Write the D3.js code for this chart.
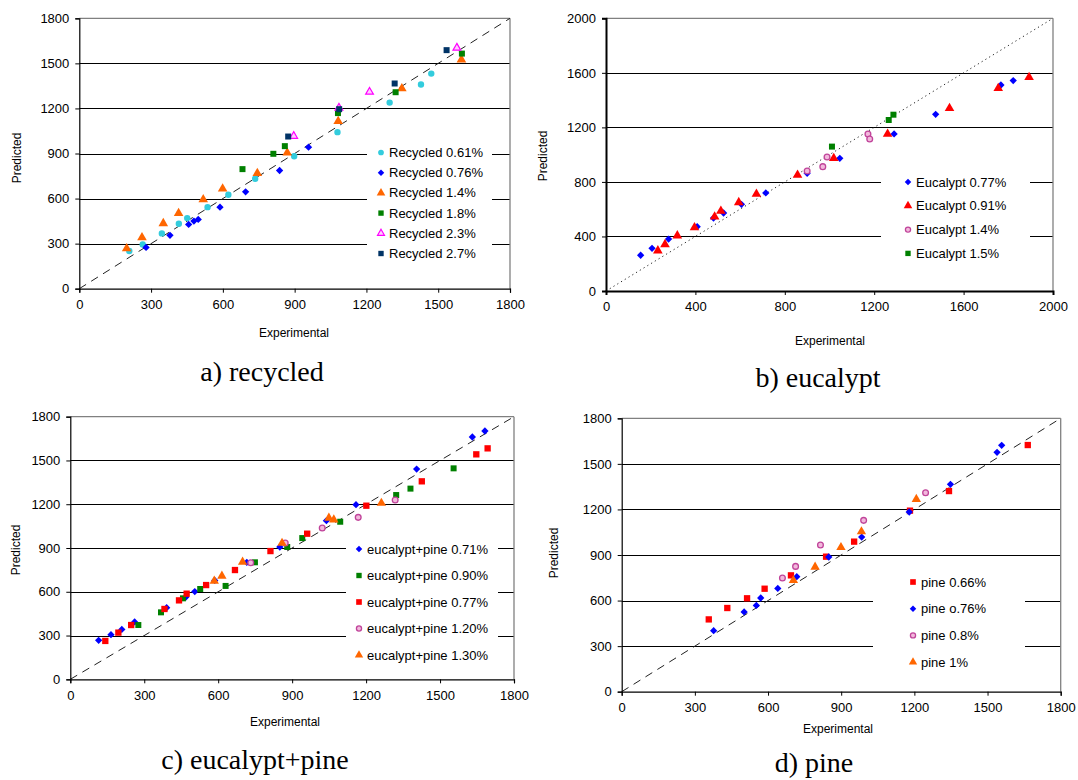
<!DOCTYPE html>
<html><head><meta charset="utf-8">
<script src="https://cdn.jsdelivr.net/npm/d3@7"></script>
<style>
body{margin:0;background:#fff;}
</style></head>
<body><svg id="chart" width="1078" height="780"></svg>
<script>
// ---------- DATA ----------
// a) recycled  [experimental, predicted]
const recycled061 = [[209,251],[265,295],[345,368],[416,432],[451,470],[536,543],[623,625],[735,732],[898,882],[1079,1042],[1297,1239],[1428,1359],[1471,1432]];
const recycled076 = [[279,275],[379,355],[457,428],[479,450],[497,461],[588,543],[695,645],[837,787],[958,942]];
const recycled14  = [[198,268],[262,341],[351,435],[415,502],[518,594],[599,665],[744,769],[869,905],[1082,1115],[1348,1333],[1597,1525]];
const recycled18  = [[682,796],[811,898],[859,949],[1081,1169],[1322,1308],[1599,1565]];
const recycled23  = [[896,1016],[1085,1204],[1213,1310],[1578,1603]];
const recycled27  = [[873,1013],[1086,1195],[1318,1366],[1535,1588]];
// b) eucalypt
const eucalypt077 = [[155,262],[206,313],[280,381],[408,472],[481,535],[526,572],[606,636],[715,719],[900,863],[1046,973],[1289,1152],[1475,1296],[1767,1511],[1822,1543]];
const eucalypt091 = [[232,296],[264,342],[319,406],[396,465],[486,545],[514,587],[594,650],[673,711],[857,851],[1019,973],[1260,1152],[1537,1340],[1755,1487],[1893,1567]];
const eucalypt14  = [[900,880],[970,912],[989,983],[1172,1152],[1180,1115]];
const eucalypt15  = [[1011,1059],[1265,1254],[1286,1293]];
// c) eucalypt+pine
const ep071 = [[115,267],[165,306],[209,342],[261,393],[391,491],[469,564],[505,601],[586,678],[716,802],[850,907],[1039,1087],[1159,1197],[1405,1441],[1631,1661],[1682,1702]];
const ep090 = [[276,372],[368,459],[457,555],[527,619],[630,640],[749,802],[880,907],[941,968],[1095,1080],[1322,1263],[1380,1307],[1555,1446]];
const ep077 = [[142,263],[195,320],[247,372],[382,482],[441,541],[472,587],[551,646],[668,749],[812,879],[961,998],[1201,1190],[1426,1357],[1647,1542],[1693,1583]];
const ep120 = [[732,799],[872,934],[1022,1037],[1168,1110],[1318,1229]];
const ep130 = [[584,674],[615,708],[699,804],[859,934],[1049,1106],[1069,1094],[1262,1208]];
// d) pine
const pine066 = [[357,476],[433,551],[514,615],[586,678],[694,766],[838,889],[953,988],[1182,1192],[1342,1321],[1665,1624]];
const pine076 = [[377,402],[502,525],[552,568],[570,617],[640,680],[718,757],[849,887],[984,1018],[1179,1183],[1348,1365],[1539,1576],[1558,1622]];
const pine08  = [[659,748],[713,825],[815,966],[992,1128],[1246,1310]];
const pine1   = [[704,733],[793,821],[899,950],[983,1054],[1208,1267]];

const ticks1800 = [0,300,600,900,1200,1500,1800];
const ticks2000 = [0,400,800,1200,1600,2000];
const titles = ["a) recycled","b) eucalypt","c) eucalypt+pine","d) pine"];
const axisX = "Experimental", axisY = "Predicted";

// ---------- STYLES ----------
const SANS = "'Liberation Sans', Arial, sans-serif";
const NARROW = "'Liberation Sans Narrow', 'Liberation Sans', Arial, sans-serif";
const SERIF = "'Liberation Serif', 'Times New Roman', serif";
const ST = {
  cyanCircle:{shape:"circle",fill:"#33CCDD",stroke:"none",size:32},
  blueDiamond:{shape:"diamond",fill:"#0000FF",stroke:"none",size:34},
  orangeTri:{shape:"triangle",fill:"#FF6600",stroke:"none",size:40},
  greenSq:{shape:"square",fill:"#008000",stroke:"none",size:36},
  magTriOpen:{shape:"triangle",fill:"#FFCCFF",stroke:"#FF00FF",size:26,sw:1.2},
  navySq:{shape:"square",fill:"#003366",stroke:"none",size:36},
  redTri:{shape:"triangle",fill:"#FF0000",stroke:"none",size:40},
  pinkCircle:{shape:"circle",fill:"#F2B8DC",stroke:"#C0449A",size:26,sw:1.3},
  redSq:{shape:"square",fill:"#FF0000",stroke:"none",size:40},
  orangeTriS:{shape:"triangle",fill:"#FF6600",stroke:"none",size:38}
};
const shapes = {circle:d3.symbolCircle,diamond:d3.symbolDiamond2,triangle:d3.symbolTriangle,square:d3.symbolSquare};

const panels = [
 {title:titles[0], x0:79.3,x1:510,y0:18.3,y1:288.7, ticks:ticks1800, line:"8,6",
  series:[["Recycled 0.61%",recycled061,ST.cyanCircle],["Recycled 0.76%",recycled076,ST.blueDiamond],["Recycled 1.4%",recycled14,ST.orangeTri],["Recycled 1.8%",recycled18,ST.greenSq],["Recycled 2.3%",recycled23,ST.magTriOpen],["Recycled 2.7%",recycled27,ST.navySq]],
  leg:{x:367,y:141,w:125,h:122,first:152.5,row:20.2,mx:381,tx:389},
  xl:[294,333], yl:[17,158], tl:[262,371], axW:1.2},
 {title:titles[1], x0:606,x1:1053,y0:18.3,y1:291, ticks:ticks2000, line:"1.2,3.2",
  series:[["Eucalypt 0.77%",eucalypt077,ST.blueDiamond],["Eucalypt 0.91%",eucalypt091,ST.redTri],["Eucalypt 1.4%",eucalypt14,ST.pinkCircle],["Eucalypt 1.5%",eucalypt15,ST.greenSq]],
  leg:{x:881,y:168,w:149,h:100,first:182,row:23.8,mx:908,tx:916},
  xl:[830,341], yl:[543,156], tl:[818,377], axW:2},
 {title:titles[2], x0:70.3,x1:514,y0:416.7,y1:679.3, ticks:ticks1800, line:"8,6",
  series:[["eucalypt+pine 0.71%",ep071,ST.blueDiamond],["eucalypt+pine 0.90%",ep090,ST.greenSq],["eucalypt+pine 0.77%",ep077,ST.redSq],["eucalypt+pine 1.20%",ep120,ST.pinkCircle],["eucalypt+pine 1.30%",ep130,ST.orangeTriS]],
  leg:{x:346,y:537,w:152,h:128,first:549,row:26.5,mx:359,tx:367},
  xl:[285,722], yl:[16,550], tl:[255,759], axW:1.2},
 {title:titles[3], x0:621.7,x1:1060.7,y0:418.3,y1:691.7, ticks:ticks1800, line:"8,6",
  series:[["pine 0.66%",pine066,ST.redSq],["pine o.76%",pine076,ST.blueDiamond],["pine 0.8%",pine08,ST.pinkCircle],["pine 1%",pine1,ST.orangeTriS]],
  leg:{x:873,y:569,w:152,h:106,first:582,row:26.7,mx:913,tx:921},
  xl:[838,729], yl:[554,553], tl:[814,762], axW:1.2}
];

const svg = d3.select("#chart");

function marker(g, st, x, y){
  g.append("path")
   .attr("d", d3.symbol().type(shapes[st.shape]).size(st.size)())
   .attr("transform", `translate(${x},${y})`)
   .attr("fill", st.fill)
   .attr("stroke", st.stroke)
   .attr("stroke-width", st.sw||0);
}

panels.forEach(p=>{
  const max = p.ticks[p.ticks.length-1];
  const x = d3.scaleLinear().domain([0,max]).range([p.x0,p.x1]);
  const y = d3.scaleLinear().domain([0,max]).range([p.y1,p.y0]);
  const g = svg.append("g");

  // gridlines
  g.selectAll(".grid").data(p.ticks.slice(1,-1)).enter().append("line")
   .attr("x1",p.x0).attr("x2",p.x1).attr("y1",d=>Math.round(y(d))+0.5).attr("y2",d=>Math.round(y(d))+0.5)
   .attr("stroke","#000").attr("stroke-width",1);
  // frame top & right
  g.append("line").attr("x1",p.x0).attr("x2",p.x1).attr("y1",y(max)).attr("y2",y(max)).attr("stroke","#808080").attr("stroke-width",1.3);
  g.append("line").attr("x1",p.x1).attr("x2",p.x1).attr("y1",y(max)).attr("y2",y(0)).attr("stroke","#808080").attr("stroke-width",1.3);

  // legend box
  const L = p.leg;
  g.append("rect").attr("x",L.x).attr("y",L.y).attr("width",L.w).attr("height",L.h).attr("fill","#fff");

  // diagonal
  g.append("line").attr("x1",x(0)).attr("y1",y(0)).attr("x2",x(max)).attr("y2",y(max))
   .attr("stroke","#222").attr("stroke-width",1).attr("stroke-dasharray",p.line);

  // axes
  const ya = d3.axisLeft(y).tickValues(p.ticks).tickFormat(d3.format("d")).tickSize(4).tickPadding(6);
  const xa = d3.axisBottom(x).tickValues(p.ticks).tickFormat(d3.format("d")).tickSize(4).tickPadding(7);
  const gy = g.append("g").attr("transform",`translate(${p.x0},0)`).call(ya);
  const gx = g.append("g").attr("transform",`translate(0,${p.y1})`).call(xa);
  [gx,gy].forEach(a=>{
    a.select(".domain").attr("stroke","#000").attr("stroke-width",p.axW);
    a.selectAll(".tick line").attr("stroke","#000");
    a.selectAll("text").style("font-size","13px").attr("fill","#000").style("font-family",SANS);
  });

  // points
  p.series.forEach(([name,data,st])=>{
    data.forEach(d=>marker(g,st,x(d[0]),y(d[1])));
  });

  // legend entries
  p.series.forEach(([name,data,st],i)=>{
    const yy = L.first + i*L.row;
    marker(g,{...st,size:st.size*0.8},L.mx,yy);
    g.append("text").attr("x",L.tx).attr("y",yy).attr("dy","0.35em")
     .style("font-size","13px").style("font-family",SANS).attr("fill","#000").text(name);
  });

  // axis titles
  g.append("text").attr("x",p.xl[0]).attr("y",p.xl[1]).attr("dy","0.35em").attr("text-anchor","middle")
   .style("font-size","12px").style("font-family",NARROW).text(axisX);
  g.append("text").attr("transform",`translate(${p.yl[0]},${p.yl[1]}) rotate(-90)`).attr("dy","0.35em").attr("text-anchor","middle")
   .style("font-size","12px").style("font-family",SANS).text(axisY);
  // panel title
  g.append("text").attr("x",p.tl[0]).attr("y",p.tl[1]).attr("dy","0.35em").attr("text-anchor","middle")
   .style("font-size","28px").style("font-family",SERIF).text(p.title);
});
</script></body></html>
